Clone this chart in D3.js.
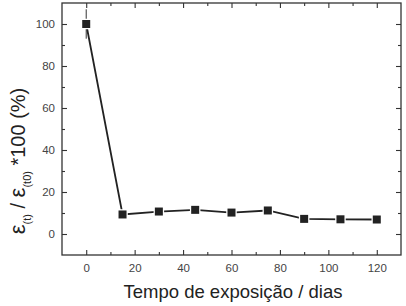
<!DOCTYPE html>
<html>
<head>
<meta charset="utf-8">
<script src="https://cdn.jsdelivr.net/npm/d3@7"></script>
<style>
  html, body { margin: 0; padding: 0; background: #fff; }
  svg { display: block; }
  text { font-family: "Liberation Sans", Arial, sans-serif; }
</style>
</head>
<body>
<svg id="chart" width="406" height="306"></svg>
<script>
// Data
const days = [0, 15, 30, 45, 60, 75, 90, 105, 120];
const ratio = [100, 9.3, 10.7, 11.5, 10.2, 11.2, 7.2, 7.0, 6.9];
const ratioErr = [7, 0, 0, 0, 0, 0, 0, 0, 0];
const xMajorTicks = [0, 20, 40, 60, 80, 100, 120];
const xMinorTicks = [10, 30, 50, 70, 90, 110];
const yMajorTicks = [0, 20, 40, 60, 80, 100];
const yMinorTicks = [10, 30, 50, 70, 90];
const xTitle = "Tempo de exposição / dias";

const svg = d3.select("#chart");
const L = 62, R = 401, T = 3, B = 255;
const x = d3.scaleLinear().domain([-10, 130]).range([L, R]);
const y = d3.scaleLinear().domain([-10, 110]).range([B, T]);

const axisColor = "#333";
const labelColor = "#444";

function styleAxis(g) {
  g.select(".domain").remove();
  g.selectAll("line").attr("stroke", axisColor).attr("stroke-width", 1.1);
  g.selectAll("text").attr("fill", labelColor).attr("font-size", 11.5);
}

// bottom axis
svg.append("g").attr("transform", `translate(0,${B})`)
  .call(d3.axisBottom(x).tickValues(xMajorTicks).tickSize(-5).tickPadding(9).tickFormat(d3.format("d")))
  .call(styleAxis);
svg.append("g").attr("transform", `translate(0,${B})`)
  .call(d3.axisBottom(x).tickValues(xMinorTicks).tickSize(-3).tickFormat(""))
  .call(styleAxis);
// top axis
svg.append("g").attr("transform", `translate(0,${T})`)
  .call(d3.axisTop(x).tickValues(xMajorTicks).tickSize(-5).tickFormat(""))
  .call(styleAxis);
svg.append("g").attr("transform", `translate(0,${T})`)
  .call(d3.axisTop(x).tickValues(xMinorTicks).tickSize(-3).tickFormat(""))
  .call(styleAxis);
// left axis
svg.append("g").attr("transform", `translate(${L},0)`)
  .call(d3.axisLeft(y).tickValues(yMajorTicks).tickSize(-5).tickPadding(7).tickFormat(d3.format("d")))
  .call(styleAxis);
svg.append("g").attr("transform", `translate(${L},0)`)
  .call(d3.axisLeft(y).tickValues(yMinorTicks).tickSize(-3).tickFormat(""))
  .call(styleAxis);
// right axis
svg.append("g").attr("transform", `translate(${R},0)`)
  .call(d3.axisRight(y).tickValues(yMajorTicks).tickSize(-5).tickFormat(""))
  .call(styleAxis);
svg.append("g").attr("transform", `translate(${R},0)`)
  .call(d3.axisRight(y).tickValues(yMinorTicks).tickSize(-3).tickFormat(""))
  .call(styleAxis);

// frame
svg.append("rect")
  .attr("x", L).attr("y", T).attr("width", R - L).attr("height", B - T)
  .attr("fill", "none").attr("stroke", axisColor).attr("stroke-width", 1.3);

const pts = days.map((d, i) => ({ x: d, y: ratio[i], e: ratioErr[i] }));

// error bars
svg.append("g").selectAll("line").data(pts.filter(p => p.e > 0)).join("line")
  .attr("x1", d => x(d.x)).attr("x2", d => x(d.x))
  .attr("y1", d => y(d.y + d.e)).attr("y2", d => y(d.y - d.e))
  .attr("stroke", "#333").attr("stroke-width", 1);

// line
svg.append("path").datum(pts)
  .attr("d", d3.line().x(d => x(d.x)).y(d => y(d.y)))
  .attr("fill", "none").attr("stroke", "#222").attr("stroke-width", 1.8);

// markers
const s = 8;
svg.append("g").selectAll("rect").data(pts).join("rect")
  .attr("x", d => x(d.x) - s / 2).attr("y", d => y(d.y) - s / 2)
  .attr("width", s).attr("height", s)
  .attr("fill", "#222").attr("stroke", "#fff").attr("stroke-width", 2.5)
  .style("paint-order", "stroke");

// x title
svg.append("text")
  .attr("x", 233).attr("y", 298)
  .attr("text-anchor", "middle").attr("font-size", 18.5).attr("fill", "#222")
  .text(xTitle);

// y title
const yt = svg.append("text")
  .attr("transform", "translate(25,161) rotate(-90)")
  .attr("text-anchor", "middle").attr("font-size", 20).attr("fill", "#222");
yt.append("tspan").attr("font-size", 22).text("ε");
yt.append("tspan").attr("font-size", 11).attr("dy", 6).text("(t)");
yt.append("tspan").attr("dy", -6).text(" / ");
yt.append("tspan").attr("font-size", 22).text("ε");
yt.append("tspan").attr("font-size", 11).attr("dy", 6).text("(t0)");
yt.append("tspan").attr("dy", -6).text(" *100 (%)");
</script>
</body>
</html>
